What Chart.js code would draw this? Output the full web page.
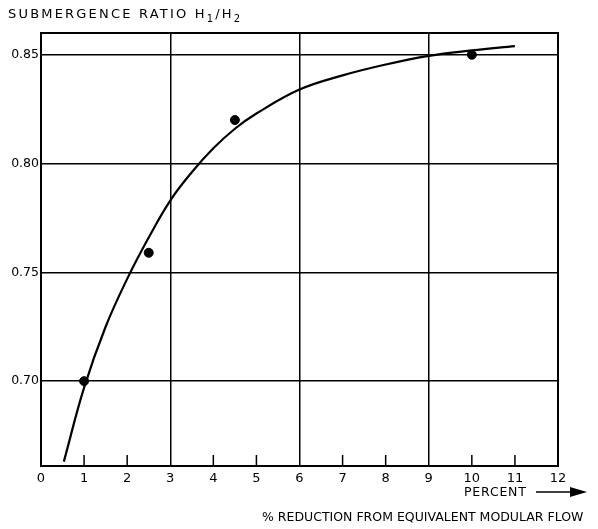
<!DOCTYPE html>
<html>
<head>
<meta charset="utf-8">
<script src="https://cdn.jsdelivr.net/npm/chart.js@4"></script>
<style>
    body { margin: 0; background: #fff; }
    #wrap { position: relative; width: 598px; height: 529px; }
    .txt { position: absolute; font-family: "DejaVu Sans", sans-serif; color: #000; white-space: nowrap; }
    sub { font-size: 10px; }
</style>
</head>
<body>
<div id="wrap">
    <canvas id="grafico" width="598" height="529"></canvas>
    <div class="txt" style="left:8px; top:6px; font-size:13px; letter-spacing:2.2px;">SUBMERGENCE RATIO H<sub>1</sub>/H<sub>2</sub></div>
    <div class="txt" style="left:464px; top:484px; font-size:12.5px; letter-spacing:0.8px;">PERCENT</div>
    <div class="txt" style="left:262px; top:509px; font-size:12.5px;">% REDUCTION FROM EQUIVALENT MODULAR FLOW</div>
</div>
<script>
const xTicks = [0, 1, 2, 3, 4, 5, 6, 7, 8, 9, 10, 11, 12];
const yTicks = [0.70, 0.75, 0.80, 0.85];

const curveX = [0.53, 1.0, 1.5, 2.0, 2.5, 3.0, 3.5, 4.0, 4.5, 5.0, 6.0, 7.0, 8.0, 9.0, 10.0, 11.0];
const curveY = [0.663, 0.697, 0.725, 0.747, 0.766, 0.783, 0.796, 0.807, 0.816, 0.823, 0.834, 0.8405, 0.8455, 0.8495, 0.852, 0.854];

const pontosX = [1, 2.5, 4.5, 10];
const pontosY = [0.70, 0.759, 0.82, 0.85];

const gridX = [3, 6, 9];

// short inward ticks on the x axis, border box and the arrow after PERCENT
const extras = {
    id: "extras",
    afterDraw(chart) {
        const ctx = chart.ctx;
        const a = chart.chartArea;
        const sx = chart.scales.x;
        ctx.save();
        ctx.strokeStyle = "#000";
        ctx.lineWidth = 1.5;
        xTicks.forEach(v => {
            if (v === 0 || v === 12 || gridX.includes(v)) return;
            const px = sx.getPixelForValue(v);
            ctx.beginPath();
            ctx.moveTo(px, a.bottom);
            ctx.lineTo(px, a.bottom - 11);
            ctx.stroke();
        });
        ctx.lineWidth = 2;
        ctx.strokeRect(a.left, a.top, a.right - a.left, a.bottom - a.top);
        // arrow
        ctx.lineWidth = 1.6;
        ctx.beginPath();
        ctx.moveTo(536, 492);
        ctx.lineTo(574, 492);
        ctx.stroke();
        ctx.fillStyle = "#000";
        ctx.beginPath();
        ctx.moveTo(587, 492);
        ctx.lineTo(570, 487);
        ctx.lineTo(570, 497);
        ctx.closePath();
        ctx.fill();
        ctx.restore();
    }
};

new Chart(document.getElementById("grafico"), {
    type: "scatter",
    data: {
        datasets: [
            {
                data: curveX.map((x, i) => ({ x: x, y: curveY[i] })),
                showLine: true,
                borderColor: "#000",
                borderWidth: 2.2,
                pointRadius: 0,
                tension: 0.4,
            },
            {
                data: pontosX.map((x, i) => ({ x: x, y: pontosY[i] })),
                backgroundColor: "#000",
                borderColor: "#000",
                pointRadius: 4.5,
            },
        ],
    },
    options: {
        responsive: false,
        animation: false,
        events: [],
        layout: { padding: { left: 0, right: 40, top: 33, bottom: 0 } },
        plugins: { legend: { display: false }, tooltip: { enabled: false } },
        scales: {
            x: {
                type: "linear",
                min: 0,
                max: 12,
                afterBuildTicks: s => { s.ticks = xTicks.map(v => ({ value: v })); },
                afterFit: s => { s.height = 63; },
                grid: {
                    drawTicks: false,
                    lineWidth: 1.5,
                    color: c => (gridX.includes(c.tick.value) ? "#000" : "rgba(0,0,0,0)"),
                },
                border: { display: false },
                ticks: {
                    padding: 5,
                    color: "#000",
                    font: { family: "DejaVu Sans", size: 13 },
                    maxRotation: 0,
                    autoSkip: false,
                },
            },
            y: {
                type: "linear",
                min: 0.661,
                max: 0.86,
                afterBuildTicks: s => { s.ticks = yTicks.map(v => ({ value: v })); },
                afterFit: s => { s.width = 41; },
                grid: { drawTicks: false, lineWidth: 1.5, color: "#000" },
                border: { display: false },
                ticks: {
                    padding: 2,
                    color: "#000",
                    font: { family: "DejaVu Sans", size: 12.5 },
                    callback: v => v.toFixed(2),
                },
            },
        },
    },
    plugins: [extras],
});
</script>
</body>
</html>
